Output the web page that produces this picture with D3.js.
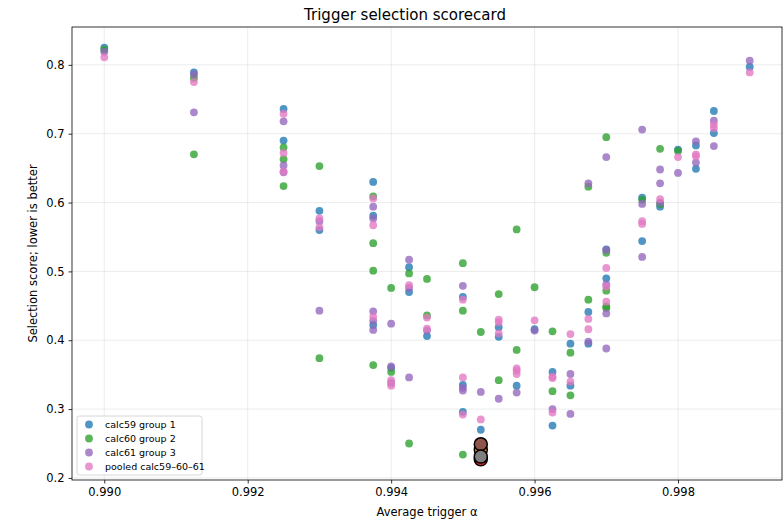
<!DOCTYPE html>
<html>
<head>
<meta charset="utf-8">
<style>
  body { margin: 0; background: #fff; }
  svg { font-family: "DejaVu Sans", sans-serif; }
</style>
</head>
<body>
<div class="scorecard"></div>

<script src="https://d3js.org/d3.v7.min.js"></script>
<script>
// one [alpha, score] pair per trigger setting
const calc59 = [
  [0.990, 0.825], [0.99125, 0.789], [0.9925, 0.736], [0.9925, 0.690],
  [0.993, 0.588], [0.993, 0.560], [0.99375, 0.630], [0.99375, 0.581], [0.99375, 0.422],
  [0.994, 0.360], [0.99425, 0.506], [0.99425, 0.470], [0.9945, 0.406],
  [0.995, 0.463], [0.995, 0.335], [0.995, 0.296], [0.99525, 0.270],
  [0.9955, 0.419], [0.9955, 0.405], [0.99575, 0.334], [0.996, 0.416],
  [0.99625, 0.354], [0.99625, 0.276], [0.9965, 0.395], [0.9965, 0.334],
  [0.99675, 0.441], [0.99675, 0.395], [0.997, 0.532], [0.997, 0.490],
  [0.9975, 0.607], [0.9975, 0.544], [0.99775, 0.594], [0.998, 0.677],
  [0.99825, 0.683], [0.99825, 0.649], [0.9985, 0.733], [0.9985, 0.701], [0.999, 0.797]
];
const calc60 = [
  [0.990, 0.822], [0.99125, 0.781], [0.99125, 0.670],
  [0.9925, 0.680], [0.9925, 0.663], [0.9925, 0.624], [0.993, 0.653], [0.993, 0.374],
  [0.99375, 0.609], [0.99375, 0.541], [0.99375, 0.501], [0.99375, 0.364],
  [0.994, 0.476], [0.994, 0.354], [0.99425, 0.497], [0.99425, 0.250],
  [0.9945, 0.489], [0.9945, 0.436], [0.995, 0.512], [0.995, 0.443], [0.995, 0.234],
  [0.99525, 0.412], [0.9955, 0.467], [0.9955, 0.342], [0.99575, 0.561], [0.99575, 0.386],
  [0.996, 0.477], [0.99625, 0.413], [0.99625, 0.326], [0.9965, 0.382], [0.9965, 0.320],
  [0.99675, 0.623], [0.99675, 0.459],
  [0.997, 0.695], [0.997, 0.527], [0.997, 0.472], [0.997, 0.449], [0.997, 0.447],
  [0.9975, 0.604], [0.99775, 0.678], [0.99775, 0.598], [0.998, 0.675]
];
const calc61 = [
  [0.990, 0.819], [0.99125, 0.786], [0.99125, 0.731],
  [0.9925, 0.718], [0.9925, 0.654], [0.9925, 0.644], [0.993, 0.573], [0.993, 0.443],
  [0.99375, 0.594], [0.99375, 0.577], [0.99375, 0.442], [0.99375, 0.428], [0.99375, 0.415],
  [0.994, 0.424], [0.994, 0.362], [0.994, 0.338],
  [0.99425, 0.517], [0.99425, 0.476], [0.99425, 0.346], [0.9945, 0.414],
  [0.995, 0.479], [0.995, 0.331], [0.995, 0.327], [0.99525, 0.325],
  [0.9955, 0.315], [0.99575, 0.324], [0.996, 0.414], [0.99625, 0.300],
  [0.9965, 0.351], [0.9965, 0.293], [0.99675, 0.628], [0.99675, 0.398],
  [0.997, 0.666], [0.997, 0.531], [0.997, 0.481], [0.997, 0.439], [0.997, 0.388],
  [0.9975, 0.706], [0.9975, 0.598], [0.9975, 0.521],
  [0.99775, 0.648], [0.99775, 0.628], [0.99775, 0.600], [0.998, 0.643],
  [0.99825, 0.689], [0.99825, 0.658], [0.9985, 0.719], [0.9985, 0.682], [0.999, 0.806]
];
const pooled = [
  [0.990, 0.811], [0.99125, 0.775], [0.9925, 0.729], [0.9925, 0.672], [0.9925, 0.645],
  [0.993, 0.577], [0.993, 0.564], [0.99375, 0.606], [0.99375, 0.567], [0.99375, 0.434],
  [0.994, 0.342], [0.994, 0.334], [0.99425, 0.480], [0.9945, 0.433], [0.9945, 0.417],
  [0.995, 0.459], [0.995, 0.346], [0.995, 0.292], [0.99525, 0.285],
  [0.9955, 0.430], [0.9955, 0.426], [0.9955, 0.410],
  [0.99575, 0.359], [0.99575, 0.356], [0.99575, 0.351], [0.996, 0.429],
  [0.99625, 0.347], [0.99625, 0.345], [0.99625, 0.295], [0.9965, 0.409], [0.9965, 0.340],
  [0.99675, 0.431], [0.99675, 0.416], [0.997, 0.505], [0.997, 0.478], [0.997, 0.456],
  [0.9975, 0.573], [0.9975, 0.569], [0.99775, 0.605], [0.998, 0.666],
  [0.99825, 0.670], [0.99825, 0.667], [0.9985, 0.713], [0.9985, 0.708], [0.999, 0.789]
];
// selected settings, one big marker each
const picks = [
  [0.99525, 0.227, "#d62728"],
  [0.99525, 0.241, "#ff7f0e"],
  [0.99525, 0.249, "#8c564b"],
  [0.99525, 0.231, "#7f7f7f"]
];

const seriesNames = ["calc59 group 1", "calc60 group 2", "calc61 group 3", "pooled calc59\u201360\u201361"];
const seriesColors = ["#1f77b4", "#2ca02c", "#9467bd", "#e377c2"];
const series = [calc59, calc60, calc61, pooled];

const xTicks = [0.990, 0.992, 0.994, 0.996, 0.998];
const yTicks = [0.2, 0.3, 0.4, 0.5, 0.6, 0.7, 0.8];

const width = 783, height = 522;
const margin = {top: 27, right: 1, bottom: 42, left: 72};

const x = d3.scaleLinear().domain([0.98955, 0.99945]).range([margin.left, width - margin.right]);
const y = d3.scaleLinear().domain([0.197, 0.855]).range([height - margin.bottom, margin.top]);

const svg = d3.select(".scorecard")
  .append("svg")
    .attr("width", width)
    .attr("height", height)
    .attr("viewBox", `0 0 ${width} ${height}`);

// grid
svg.append("g")
  .selectAll("line.gx")
  .data(xTicks)
  .enter().append("line")
    .attr("x1", d => x(d)).attr("x2", d => x(d))
    .attr("y1", margin.top).attr("y2", height - margin.bottom)
    .attr("stroke", "#b0b0b0").attr("stroke-opacity", 0.3).attr("stroke-width", 0.8);
svg.append("g")
  .selectAll("line.gy")
  .data(yTicks)
  .enter().append("line")
    .attr("y1", d => y(d)).attr("y2", d => y(d))
    .attr("x1", margin.left).attr("x2", width - margin.right)
    .attr("stroke", "#b0b0b0").attr("stroke-opacity", 0.3).attr("stroke-width", 0.8);

// axes
const xAxis = svg.append("g")
  .attr("transform", `translate(0,${height - margin.bottom})`)
  .call(d3.axisBottom(x).tickValues(xTicks).tickFormat(d3.format(".3f")).tickSize(3.5).tickPadding(4));
const yAxis = svg.append("g")
  .attr("transform", `translate(${margin.left},0)`)
  .call(d3.axisLeft(y).tickValues(yTicks).tickFormat(d3.format(".1f")).tickSize(3.5).tickPadding(4));
[xAxis, yAxis].forEach(g => {
  g.select(".domain").remove();
  g.selectAll("text").attr("font-size", 11.5).attr("fill", "#000").attr("font-family", "DejaVu Sans");
  g.selectAll("line").attr("stroke", "#000").attr("stroke-width", 0.8);
});

// frame
svg.append("rect")
  .attr("x", margin.left).attr("y", margin.top)
  .attr("width", width - margin.left - margin.right)
  .attr("height", height - margin.top - margin.bottom)
  .attr("fill", "none").attr("stroke", "#000").attr("stroke-width", 0.8);

// points
series.forEach((pts, i) => {
  svg.append("g")
    .selectAll("circle")
    .data(pts)
    .enter().append("circle")
      .attr("cx", d => x(d[0]))
      .attr("cy", d => y(d[1]))
      .attr("r", 3.9)
      .attr("fill", seriesColors[i])
      .attr("fill-opacity", 0.78);
});

svg.append("g")
  .selectAll("circle")
  .data(picks)
  .enter().append("circle")
    .attr("cx", d => x(d[0]))
    .attr("cy", d => y(d[1]))
    .attr("r", 6.5)
    .attr("fill", d => d[2])
    .attr("stroke", "#000")
    .attr("stroke-width", 1.5);

// title and labels
svg.append("text")
  .attr("x", 405)
  .attr("y", 20)
  .attr("text-anchor", "middle")
  .attr("font-size", 15)
  .text("Trigger selection scorecard");
svg.append("text")
  .attr("x", (margin.left + width - margin.right) / 2)
  .attr("y", 516)
  .attr("text-anchor", "middle")
  .attr("font-size", 11.5)
  .text("Average trigger \u03b1");
svg.append("text")
  .attr("transform", `translate(37,${(margin.top + height - margin.bottom) / 2}) rotate(-90)`)
  .attr("text-anchor", "middle")
  .attr("font-size", 11.5)
  .text("Selection score; lower is better");

// legend
const legend = svg.append("g").attr("transform", "translate(77,416)");
legend.append("rect")
  .attr("width", 125).attr("height", 59).attr("rx", 2.5)
  .attr("fill", "#fff").attr("fill-opacity", 0.8)
  .attr("stroke", "#cccccc").attr("stroke-width", 0.8);
const rows = legend.selectAll("g.row")
  .data(seriesNames)
  .enter().append("g")
    .attr("transform", (d, i) => `translate(0,${8.5 + i * 14})`);
rows.append("circle")
  .attr("cx", 12).attr("cy", 0).attr("r", 3.9)
  .attr("fill", (d, i) => seriesColors[i]).attr("fill-opacity", 0.78);
rows.append("text")
  .attr("x", 28).attr("y", 3.5)
  .attr("font-size", 9.5)
  .text(d => d);
</script>
</body>
</html>
